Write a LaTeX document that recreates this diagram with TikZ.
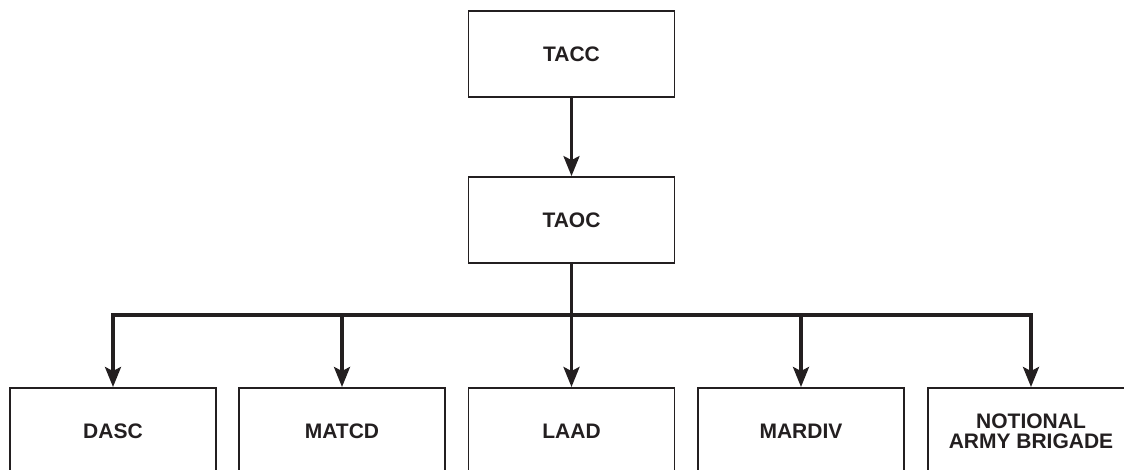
\documentclass[tikz,border=0pt]{standalone}
\usepackage{fontspec}
\setmainfont{Liberation Sans}
\usetikzlibrary{arrows.meta}
\definecolor{ink}{HTML}{231F20}
\begin{document}
\begin{tikzpicture}[x=1pt,y=-1pt,
  box/.style={draw=ink, line width=1.8pt, fill=white, minimum width=206pt,
    inner sep=0pt, align=center, text=ink,
    font=\fontsize{21}{20}\selectfont\bfseries},
  topbox/.style={box, minimum height=86pt},
  lowbox/.style={box, minimum height=86pt, anchor=north},
  conn/.style={draw=ink, line width=3.2pt},
  arr/.style={conn, -{Stealth[length=20pt, width=16pt, inset=4pt]}}]
\path[use as bounding box, clip] (0,0) rectangle (1124,470);
\node[topbox] (tacc) at (571.5,54) {TACC};
\node[topbox] (taoc) at (571.5,220) {TAOC};
\node[lowbox] (dasc) at (113,387) {DASC};
\node[lowbox] (matcd) at (342,387) {MATCD};
\node[lowbox] (laad) at (571.5,387) {LAAD};
\node[lowbox] (mardiv) at (801,387) {MARDIV};
\node[lowbox] (nab) at (1031,387) {NOTIONAL\\ARMY BRIGADE};
\coordinate (bus) at (571.5,315);
\draw[arr] (tacc) -- (taoc);
\draw[conn] (taoc) -- (bus);
\draw[arr] (bus) -| (dasc.north);
\draw[arr] (bus) -| (matcd.north);
\draw[arr] (bus) -- (laad.north);
\draw[arr] (bus) -| (mardiv.north);
\draw[arr] (bus) -| (nab.north);
\end{tikzpicture}
\end{document}
